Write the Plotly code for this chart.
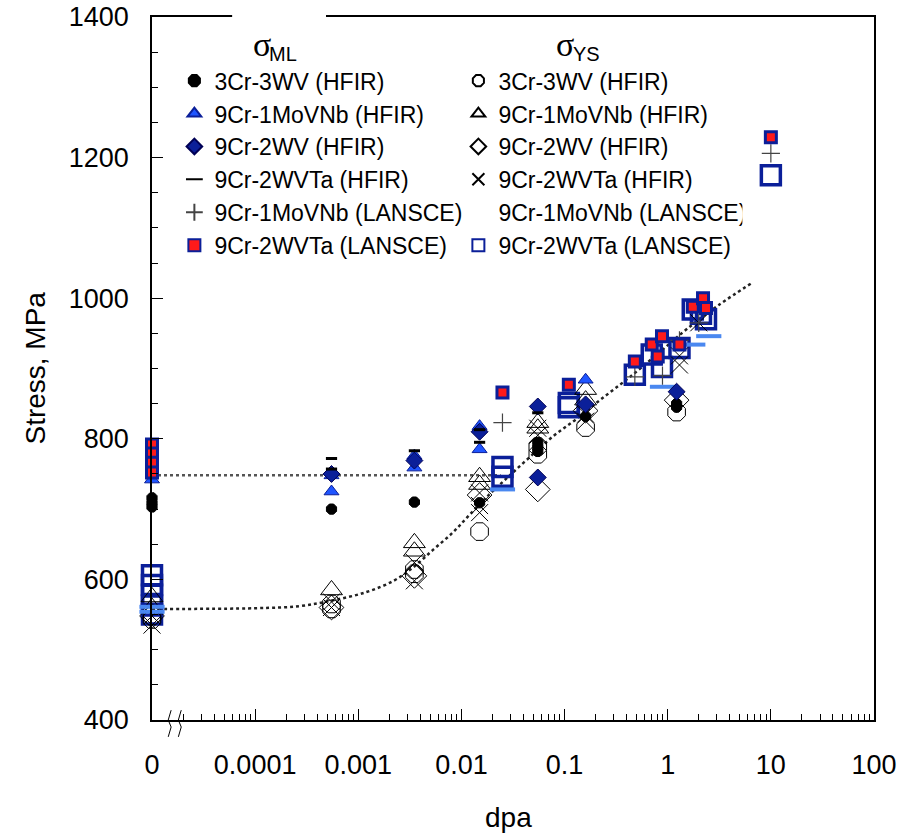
import plotly.graph_objects as go

# ---------------- data (dpa, MPa) ----------------
ZERO_POS = 1e-5  # where "0 dpa" is drawn on the broken log axis

# sigma_ML (filled symbols)
ml_3cr_x = [0, 0, 0, 0.00055, 0.0035, 0.015, 0.055, 0.055, 0.055, 0.16, 1.22, 1.22]
ml_3cr_y = [716, 709, 703, 700, 710, 709, 795, 788, 782, 832, 850, 845]

ml_91mo_x = [0, 0.00055, 0.00055, 0.0035, 0.0035, 0.015, 0.015, 0.16]
ml_91mo_y = [742, 748, 725, 776, 759, 818, 785, 884]

ml_92wv_x = [0.00055, 0.0035, 0.015, 0.055, 0.055, 0.16, 1.22]
ml_92wv_y = [750, 769, 810, 846, 745, 849, 867]

ml_92wvta_x = [0, 0, 0.00055, 0.00055, 0.0035, 0.015, 0.015, 0.055]
ml_92wvta_y = [767, 752, 772, 757, 783, 813, 795, 837]

ml_91mo_l_x = [0.025, 0.48, 0.89, 1.3, 2.0, 10]
ml_91mo_l_y = [823, 888, 890, 940, 965, 1206]

ml_92wvta_l_x = [0, 0, 0, 0, 0.025, 0.11, 0.48, 0.7, 0.8, 0.88, 1.3, 1.75, 2.2, 2.35, 10]
ml_92wvta_l_y = [792, 779, 766, 752, 866, 877, 910, 934, 917, 946, 934, 988, 1000, 986, 1229]

# sigma_YS (open symbols)
ys_3cr_x = [0, 0, 0.00055, 0.00055, 0.0035, 0.0035, 0.015, 0.055, 0.055, 0.16, 1.22]
ys_3cr_y = [548, 543, 565, 558, 614, 608, 668, 789, 778, 816, 838]

ys_91mo_x = [0, 0, 0.00055, 0.0035, 0.0035, 0.015, 0.015, 0.055, 0.055, 0.16, 0.16]
ys_91mo_y = [575, 560, 585, 652, 640, 746, 735, 823, 815, 870, 855]

ys_92wv_x = [0, 0.00055, 0.0035, 0.015, 0.055, 0.16, 1.22]
ys_92wv_y = [548, 560, 605, 720, 728, 840, 855]

ys_92wvta_x = [0, 0, 0.00055, 0.00055, 0.0035, 0.0035, 0.015, 0.015, 0.015,
               0.055, 0.055, 0.16, 0.16, 1.3, 1.3, 2.0]
ys_92wvta_y = [535, 548, 568, 560, 624, 598, 723, 705, 695,
               815, 805, 835, 825, 918, 905, 965]

ys_91mo_l_x = [0, 0, 0.025, 0.89, 1.75, 2.5]
ys_91mo_l_y = [561, 554, 728, 874, 934, 946]

ys_92wvta_l_x = [0, 0, 0, 0, 0, 0.025, 0.025, 0.11, 0.11, 0.48, 0.7, 0.88, 1.3, 1.75, 2.1, 2.35, 10]
ys_92wvta_l_y = [606, 592, 578, 563, 550, 760, 746, 851, 845, 891, 920, 902, 929, 984, 978, 970, 1175]

# fitted trend lines
fit_ml_x = [0, 0.024]
fit_ml_y = [748, 748]

fit_ys_x = [0, 1e-4, 2.7e-4, 5.6e-4, 1.2e-3, 2.2e-3, 3.4e-3, 5.3e-3, 8.3e-3, 0.012,
            0.019, 0.028, 0.046, 0.078, 0.13, 0.22, 0.43, 0.88, 1.5, 3.1, 6.6]
fit_ys_y = [558, 559, 562, 570, 582, 598, 617, 642, 667, 692,
            722, 745, 774, 804, 828, 855, 888, 926, 955, 990, 1022]

x_tickvals = [0, 0.0001, 0.001, 0.01, 0.1, 1, 10, 100]
x_ticktext = ["0", "0.0001", "0.001", "0.01", "0.1", "1", "10", "100"]


def pos(xs):
    return [ZERO_POS if v == 0 else v for v in xs]


NAVY = "#0b1f99"
BLUE = "#1f55ff"
LBLUE = "#4a88f0"
FONT = "Liberation Sans"
SERIF = "Liberation Serif"

fig = go.Figure()

# trend lines
fig.add_trace(go.Scatter(x=pos(fit_ml_x), y=fit_ml_y, mode="lines", showlegend=False,
                         line=dict(color="#555555", width=2.5, dash="dot"), hoverinfo="skip"))
fig.add_trace(go.Scatter(x=pos(fit_ys_x), y=fit_ys_y, mode="lines", showlegend=False,
                         line=dict(color="#222222", width=2.5, dash="dot", shape="spline"),
                         hoverinfo="skip"))


def add(xs, ys, name, rank, marker, showlegend=True):
    fig.add_trace(go.Scatter(x=pos(xs), y=ys, mode="markers", name=name, legendrank=rank,
                             showlegend=showlegend, marker=marker, cliponaxis=False))


# sigma_YS traces (drawn first)
add(ys_92wvta_l_x, ys_92wvta_l_y, "9Cr-2WVTa (LANSCE)", 12,
    dict(symbol="square-open", size=19, color=NAVY, line=dict(color=NAVY, width=3.5)))
add(ys_3cr_x, ys_3cr_y, "3Cr-3WV (HFIR)", 2,
    dict(symbol="octagon-open", size=19, color="black", line=dict(color="black", width=1)))
add(ys_91mo_x, ys_91mo_y, "9Cr-1MoVNb (HFIR)", 4,
    dict(symbol="triangle-up-open", size=19, color="black", line=dict(color="black", width=1)))
add(ys_92wv_x, ys_92wv_y, "9Cr-2WV (HFIR)", 6,
    dict(symbol="diamond-open", size=19, color="black", line=dict(color="black", width=1)))
add(ys_92wvta_x, ys_92wvta_y, "9Cr-2WVTa (HFIR)", 8,
    dict(symbol="x-thin-open", size=17, color="black", line=dict(color="black", width=1)))
add(ys_91mo_l_x, ys_91mo_l_y, "9Cr-1MoVNb (LANSCE)", 10,
    dict(symbol="line-ew-open", size=18, color=LBLUE, line=dict(color=LBLUE, width=4)),
    showlegend=False)
# legend-only entry (the reference legend shows no symbol for this series)
fig.add_trace(go.Scatter(x=[None], y=[None], mode="markers", name="9Cr-1MoVNb (LANSCE)",
                         legendrank=10,
                         marker=dict(symbol="line-ew-open", size=10, color="rgba(0,0,0,0)",
                                     line=dict(color="rgba(0,0,0,0)", width=1))))

# sigma_ML traces
add(ml_3cr_x, ml_3cr_y, "3Cr-3WV (HFIR)", 1,
    dict(symbol="octagon", size=11, color="black", line=dict(color="black", width=1)))
add(ml_91mo_x, ml_91mo_y, "9Cr-1MoVNb (HFIR)", 3,
    dict(symbol="triangle-up", size=13, color=BLUE, line=dict(color=NAVY, width=1)))
add(ml_92wv_x, ml_92wv_y, "9Cr-2WV (HFIR)", 5,
    dict(symbol="diamond", size=13, color=NAVY, line=dict(color="#000055", width=1)))
add(ml_92wvta_x, ml_92wvta_y, "9Cr-2WVTa (HFIR)", 7,
    dict(symbol="line-ew-open", size=8, color="black", line=dict(color="black", width=3)))
add(ml_91mo_l_x, ml_91mo_l_y, "9Cr-1MoVNb (LANSCE)", 9,
    dict(symbol="cross-thin-open", size=13, color="#444444", line=dict(color="#444444", width=1.2)))
add(ml_92wvta_l_x, ml_92wvta_l_y, "9Cr-2WVTa (LANSCE)", 11,
    dict(symbol="square", size=11, color="#ff1a1a", line=dict(color=NAVY, width=3)))


def ann(text, x, y, family, size, angle=0):
    return dict(text=text, x=x, y=y, xref="paper", yref="paper", showarrow=False,
                xanchor="center", yanchor="middle", textangle=angle,
                font=dict(family=family, size=size, color="black"))


fig.update_layout(
    width=917, height=833,
    margin=dict(l=152, r=43, t=17, b=113),
    paper_bgcolor="white", plot_bgcolor="white",
    font=dict(family=FONT, size=27, color="black"),
    showlegend=True,
    legend=dict(orientation="h", x=0.031, y=0.94, xanchor="left", yanchor="top",
                entrywidth=239, entrywidthmode="pixels", itemsizing="constant",
                bgcolor="rgba(0,0,0,0)", font=dict(family=FONT, size=23, color="black"),
                tracegroupgap=0, itemclick=False),
    xaxis=dict(type="log", range=[-5, 2], tickvals=pos(x_tickvals), ticktext=x_ticktext,
               ticks="inside", ticklen=11, tickwidth=1, tickcolor="black",
               minor=dict(dtick="D1", ticks="inside", ticklen=6, tickcolor="black", tickwidth=1),
               showline=True, linecolor="black", linewidth=1.5, mirror=True,
               showgrid=False, zeroline=False, ticklabelstandoff=20, automargin=False,
               tickfont=dict(family=FONT, size=27)),
    yaxis=dict(range=[400, 1400], dtick=200, ticks="inside", ticklen=11, tickwidth=1,
               tickcolor="black",
               minor=dict(dtick=50, ticks="inside", ticklen=6, tickcolor="black", tickwidth=1),
               showline=True, linecolor="black", linewidth=1.5, mirror=True,
               showgrid=False, zeroline=False, ticklabelstandoff=16, automargin=False,
               tickfont=dict(family=FONT, size=27)),
    annotations=[
        ann("dpa", 0.494, -0.139, FONT, 28),
        ann("Stress, MPa", -0.162, 0.5, FONT, 28, -90),
        ann("σ", 0.152, 0.961, SERIF, 34),
        ann("ML", 0.182, 0.948, FONT, 20),
        ann("σ", 0.572, 0.961, SERIF, 34),
        ann("YS", 0.602, 0.948, FONT, 20),
    ],
    shapes=[
        # gap in the top frame behind the legend header
        dict(type="rect", xref="paper", yref="paper", x0=0.111, x1=0.241, y0=0.99, y1=1.01,
             fillcolor="white", line=dict(width=0), layer="above"),
        # axis-break marks
        dict(type="path", xref="paper", yref="paper",
             path="M 0.0265,0.014 L 0.0225,0.000 L 0.0265,-0.010 L 0.0225,-0.024",
             line=dict(color="black", width=1), layer="above"),
        dict(type="path", xref="paper", yref="paper",
             path="M 0.0405,0.014 L 0.0365,0.000 L 0.0405,-0.010 L 0.0365,-0.024",
             line=dict(color="black", width=1), layer="above"),
    ],
)

fig.write_html("out.html")
